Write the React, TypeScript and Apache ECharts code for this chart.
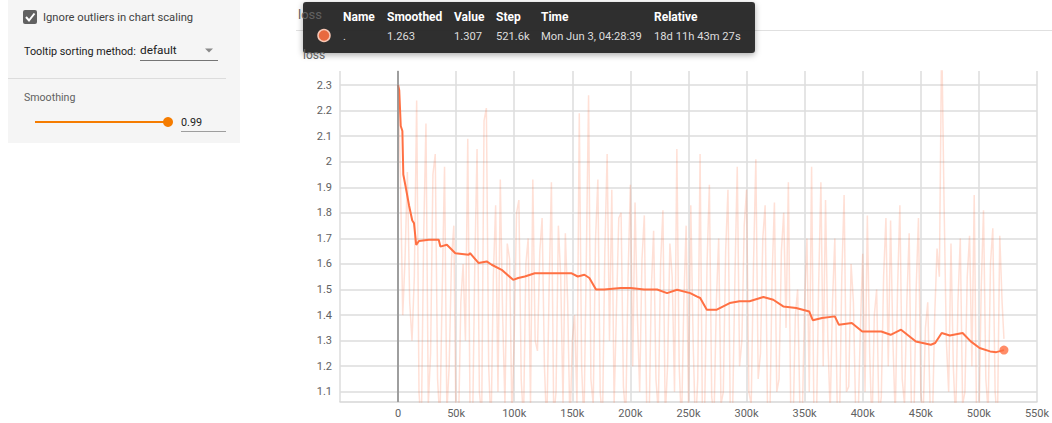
import React, { useEffect, useRef } from "react";
import * as echarts from "echarts";

// ---- data ----
const xTicks = [0, 50000, 100000, 150000, 200000, 250000, 300000, 350000, 400000, 450000, 500000, 550000];
const yTicks = [1.1, 1.2, 1.3, 1.4, 1.5, 1.6, 1.7, 1.8, 1.9, 2.0, 2.1, 2.2, 2.3];

// smoothed curve (steps in thousands)
const smoothSteps = [0, 1, 2.3, 3.7, 4.5, 6.6, 9.4, 12.2, 13.7, 15.6, 18, 26.5, 35, 36.4, 42, 49.3, 60.7, 62, 69.2, 76.3, 80.6, 89.2, 99.1, 103.4, 109.1, 117.7, 131.9, 149, 154.7, 160.4, 164.7, 170.4, 177.5, 191.7, 200.3, 211.7, 223, 231.6, 240.2, 251.5, 257, 260.1, 265.8, 274.4, 285.5, 294, 302.6, 314.5, 323, 331.6, 342.7, 354, 357, 365, 376, 379.5, 390.6, 399.6, 416, 424, 433, 445.8, 458.6, 462.4, 468, 475, 486, 493, 500.6, 509.7, 515, 521.6];
const smoothValues = [2.30, 2.28, 2.14, 2.12, 1.95, 1.90, 1.83, 1.77, 1.76, 1.675, 1.69, 1.695, 1.695, 1.668, 1.675, 1.642, 1.636, 1.642, 1.604, 1.61, 1.597, 1.577, 1.538, 1.545, 1.551, 1.564, 1.564, 1.564, 1.551, 1.558, 1.545, 1.50, 1.50, 1.506, 1.506, 1.50, 1.50, 1.486, 1.499, 1.486, 1.473, 1.467, 1.421, 1.421, 1.447, 1.454, 1.454, 1.471, 1.46, 1.434, 1.428, 1.414, 1.38, 1.389, 1.395, 1.362, 1.369, 1.336, 1.336, 1.323, 1.343, 1.297, 1.284, 1.291, 1.33, 1.32, 1.33, 1.297, 1.271, 1.258, 1.255, 1.263];

// raw values, one every 2k steps starting at 0
const rawStepSize = 2;
const rawValues = [
  2.30, 1.95, 1.40, 1.62, 1.96, 1.45, 1.30, 1.55, 2.24, 1.10, 0.95, 1.70, 2.15, 1.05, 1.25, 1.95, 2.03, 1.15, 0.98, 1.50,
  1.98, 1.02, 1.20, 1.62, 1.75, 0.90, 0.95, 1.45, 1.60, 1.30, 2.09, 1.00, 0.92, 1.58, 2.05, 1.10, 1.00, 2.16, 2.21, 1.20,
  0.95, 1.55, 1.83, 1.10, 1.93, 1.40, 1.05, 1.68, 1.62, 1.00, 1.32, 1.80, 1.85, 1.15, 0.98, 1.60, 1.70, 1.05, 1.93, 1.30,
  1.26, 1.65, 1.78, 1.20, 0.95, 1.50, 1.92, 1.00, 1.10, 1.75, 1.55, 1.05, 1.72, 1.45, 0.96, 1.30, 1.40, 1.05, 2.19, 1.20,
  0.97, 1.60, 2.26, 1.15, 1.05, 1.70, 1.93, 1.10, 0.98, 1.65, 2.03, 1.30, 1.89, 1.05, 1.42, 1.78, 1.80, 1.12, 1.00, 1.55,
  1.91, 1.20, 1.84, 1.40, 1.10, 1.62, 1.79, 1.05, 0.95, 1.50, 1.73, 1.15, 1.02, 1.60, 1.81, 1.00, 1.20, 1.68, 1.55, 1.10,
  2.05, 1.20, 0.96, 1.45, 1.75, 1.05, 1.83, 1.30, 0.95, 1.15, 2.03, 1.00, 1.05, 1.60, 1.91, 1.08, 1.00, 1.45, 1.70, 1.05,
  1.10, 1.65, 1.89, 1.00, 1.02, 1.55, 1.98, 1.20, 1.30, 1.75, 1.89, 1.10, 1.05, 1.60, 2.01, 1.15, 1.25, 1.70, 1.83, 1.05,
  0.97, 1.55, 1.84, 1.10, 1.15, 1.65, 1.80, 1.35, 1.92, 1.05, 0.95, 1.40, 1.50, 1.02, 1.00, 1.45, 1.70, 1.10, 1.98, 1.00,
  0.93, 1.50, 1.92, 1.20, 1.85, 1.30, 1.02, 1.45, 1.70, 1.05, 0.96, 1.55, 1.87, 1.10, 1.12, 1.60, 1.45, 1.00, 0.98, 1.35,
  1.64, 1.10, 1.79, 1.25, 0.95, 1.40, 1.50, 1.00, 1.08, 1.55, 1.78, 1.20, 1.77, 1.30, 1.00, 1.50, 1.83, 1.15, 1.05, 1.45,
  1.72, 1.00, 0.96, 1.50, 1.78, 1.10, 1.00, 1.35, 1.45, 1.05, 0.97, 1.40, 1.66, 1.55, 2.50, 1.85, 1.30, 1.10, 1.68, 1.20,
  0.98, 1.45, 1.70, 1.05, 1.10, 1.55, 1.71, 1.20, 1.87, 1.00, 0.95, 1.50, 1.81, 1.15, 1.02, 1.60, 1.74, 1.10, 0.97, 1.71,
  1.45,
];
const lastStep = 521.6;
const lastRaw = 1.307;
const lastSmoothed = 1.263;

const tooltipHeaders = ["Name", "Smoothed", "Value", "Step", "Time", "Relative"];
const tooltipRow = [".", "1.263", "1.307", "521.6k", "Mon Jun 3, 04:28:39", "18d 11h 43m 27s"];
const tooltipColX = [343, 387, 454, 496, 541, 654];

const FONT = "Roboto, 'Noto Sans', sans-serif";

export default function App() {
  const ref = useRef<HTMLDivElement>(null);

  useEffect(() => {
    if (!ref.current) return;
    const chart = echarts.init(ref.current, undefined, { renderer: "svg" });

    const rawData: [number, number][] = rawValues.map((v, i) => [i * rawStepSize * 1000, v]);
    rawData.push([lastStep * 1000, lastRaw]);
    const smoothData: [number, number][] = smoothSteps.map((s, i) => [s * 1000, smoothValues[i]]);

    const txt = (x: number, y: number, text: string, extra: any = {}) => ({
      type: "text",
      x,
      y,
      silent: true,
      style: {
        text,
        fill: extra.fill || "#424242",
        fontSize: extra.fontSize || 12,
        fontWeight: extra.fontWeight || "normal",
        fontFamily: FONT,
        verticalAlign: "middle",
        align: extra.align || "left",
      },
      z: 100,
    });

    const graphic: any[] = [
      // left settings panel
      { type: "rect", shape: { x: 8, y: 0, width: 232, height: 143 }, style: { fill: "#f5f5f5" }, silent: true },
      { type: "rect", shape: { x: 23, y: 10, width: 14, height: 14, r: 2 }, style: { fill: "#616161" }, silent: true },
      { type: "polyline", shape: { points: [[26, 17], [29, 20.5], [34.5, 13.5]] }, style: { stroke: "#fff", lineWidth: 2, fill: null }, silent: true },
      txt(43, 17, "Ignore outliers in chart scaling", { fill: "#424242", fontSize: 11.2 }),
      txt(24, 51, "Tooltip sorting method:", { fill: "#212121", fontSize: 10.8 }),
      txt(140, 50, "default", { fill: "#212121", fontSize: 11.8 }),
      { type: "polygon", shape: { points: [[205, 48.5], [213, 48.5], [209, 52.5]] }, style: { fill: "#8a8a8a" }, silent: true },
      { type: "line", shape: { x1: 140, y1: 60.5, x2: 218, y2: 60.5 }, style: { stroke: "#757575", lineWidth: 1 }, silent: true },
      { type: "line", shape: { x1: 8, y1: 78.5, x2: 226, y2: 78.5 }, style: { stroke: "#dcdcdc", lineWidth: 1 }, silent: true },
      txt(24, 97, "Smoothing", { fill: "#616161", fontSize: 10.6 }),
      { type: "line", shape: { x1: 35, y1: 122, x2: 167, y2: 122 }, style: { stroke: "#f57c00", lineWidth: 2 }, silent: true },
      { type: "circle", shape: { cx: 168, cy: 122, r: 5 }, style: { fill: "#f57c00" }, silent: true },
      txt(181, 122, "0.99", { fill: "#212121", fontSize: 10.8 }),
      { type: "line", shape: { x1: 181, y1: 131.5, x2: 226, y2: 131.5 }, style: { stroke: "#9e9e9e", lineWidth: 1 }, silent: true },

      // chart card header
      txt(298, 14, "loss", { fill: "#616161", fontSize: 13 }),
      { type: "line", shape: { x1: 296, y1: 30.5, x2: 1052, y2: 30.5 }, style: { stroke: "#e0e0e0", lineWidth: 1 }, silent: true },
      txt(303, 55, "loss", { fill: "#616161", fontSize: 12 }),

      // tooltip box
      {
        type: "rect",
        shape: { x: 303, y: 2, width: 452, height: 51, r: 3 },
        style: { fill: "rgba(40,40,40,0.95)", shadowBlur: 6, shadowOffsetY: 2, shadowColor: "rgba(0,0,0,0.35)" },
        silent: true,
        z: 90,
      },
      { type: "circle", shape: { cx: 324, cy: 35.5, r: 6 }, style: { fill: "#e8693f", stroke: "#f7c6b3", lineWidth: 1.5 }, silent: true, z: 100 },
      ...tooltipHeaders.map((h, i) => txt(tooltipColX[i], 17, h, { fill: "#ffffff", fontWeight: "bold", fontSize: 12 })),
      ...tooltipRow.map((v, i) => txt(tooltipColX[i], 36, v, { fill: "#dddddd", fontSize: 11.2 })),
    ];

    chart.setOption({
      animation: false,
      grid: { left: 340, top: 71, width: 702, height: 331, containLabel: false },
      xAxis: {
        type: "value",
        min: -50000,
        max: 550000,
        interval: 50000,
        axisLine: { show: true, lineStyle: { color: "#d6d6d6", width: 1.5 } },
        axisTick: { show: false },
        splitLine: { show: true, lineStyle: { color: "#dcdcdc", width: 1.5 } },
        axisLabel: {
          color: "#616161",
          fontSize: 11,
          fontFamily: FONT,
          margin: 6,
          showMinLabel: false,
          showMaxLabel: true,
          hideOverlap: false,
          formatter: (v: number) => {
            if (!xTicks.includes(v)) return "";
            return v === 0 ? "0" : `${v / 1000}k`;
          },
        },
      },
      yAxis: {
        type: "value",
        min: 1.06,
        max: 2.355,
        splitNumber: 13,
        minInterval: 0.1,
        maxInterval: 0.1,
        axisLine: { show: true, lineStyle: { color: "#d6d6d6", width: 1.5 } },
        axisTick: { show: false },
        splitLine: { show: true, showMinLine: false, showMaxLine: false, lineStyle: { color: "#dcdcdc", width: 1.5 } },
        axisLabel: {
          color: "#616161",
          fontSize: 11,
          fontFamily: FONT,
          margin: 8,
          formatter: (v: number) => {
            const hit = yTicks.find((t) => Math.abs(t - v) < 1e-6);
            return hit === undefined ? "" : String(hit);
          },
        },
      },
      series: [
        {
          type: "line",
          data: rawData,
          showSymbol: false,
          silent: true,
          clip: true,
          z: 2,
          lineStyle: { color: "rgba(255,112,67,0.22)", width: 1.5 },
          markLine: {
            silent: true,
            symbol: "none",
            label: { show: false },
            lineStyle: { color: "#8a8a8a", width: 1.5, type: "solid" },
            data: [{ xAxis: 0 }],
          },
        },
        {
          type: "line",
          data: smoothData,
          showSymbol: false,
          silent: true,
          z: 3,
          lineStyle: { color: "#ff7043", width: 2 },
        },
        {
          type: "scatter",
          data: [[lastStep * 1000, lastSmoothed]],
          symbolSize: 9,
          silent: true,
          z: 4,
          itemStyle: { color: "#ff7043" },
        },
      ],
      graphic,
    });

    return () => chart.dispose();
  }, []);

  return (
    <div
      ref={ref}
      style={{ position: "absolute", left: 0, top: 0, width: 1052, height: 423, background: "#fff" }}
    />
  );
}
